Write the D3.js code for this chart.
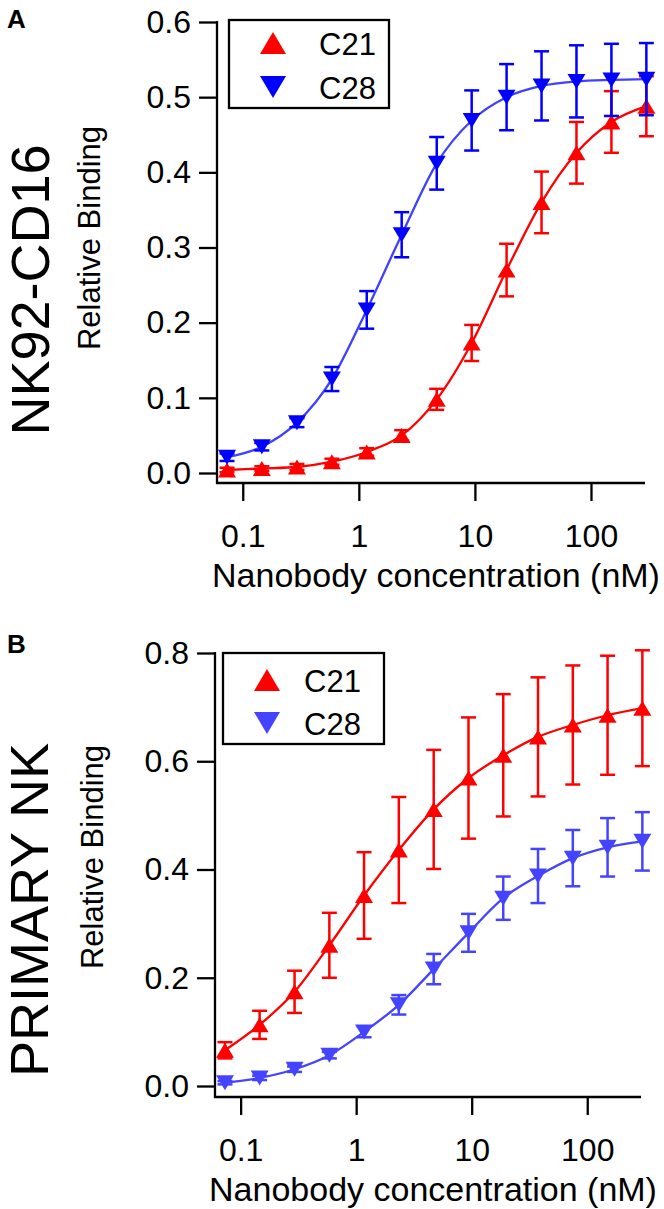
<!DOCTYPE html>
<html><head><meta charset="utf-8">
<script src="https://cdn.jsdelivr.net/npm/d3@7"></script>
<style>
html,body{margin:0;padding:0;background:#fff;}
svg{display:block;}
text{font-family:"Liberation Sans",Arial,Helvetica,sans-serif;fill:#000;}
</style></head>
<body>
<script>
// ---------- DATA ----------
const concentrations = [0.0732, 0.146, 0.293, 0.586, 1.17, 2.34, 4.69, 9.38, 18.75, 37.5, 75, 150, 300];
const xTickValues = [0.1, 1, 10, 100];
const xTickLabels = ["0.1", "1", "10", "100"];
const seriesNames = ["C21", "C28"];

// Panel A: NK92-CD16
const panelA_yTicks = [0, 0.1, 0.2, 0.3, 0.4, 0.5, 0.6];
const panelA_C21 = [0.004, 0.006, 0.008, 0.015, 0.028, 0.050, 0.098, 0.173, 0.270, 0.360, 0.426, 0.467, 0.488];
const panelA_C21_err = [0.003, 0.003, 0.004, 0.004, 0.005, 0.007, 0.014, 0.024, 0.035, 0.041, 0.041, 0.041, 0.040];
const panelA_C28 = [0.021, 0.035, 0.067, 0.125, 0.217, 0.317, 0.412, 0.469, 0.500, 0.515, 0.521, 0.523, 0.524];
const panelA_C28_err = [0.005, 0.005, 0.006, 0.016, 0.025, 0.030, 0.035, 0.040, 0.044, 0.046, 0.048, 0.048, 0.048];

// Panel B: PRIMARY NK
const panelB_yTicks = [0, 0.2, 0.4, 0.6, 0.8];
const panelB_C21 = [0.066, 0.113, 0.174, 0.260, 0.352, 0.436, 0.511, 0.569, 0.611, 0.645, 0.667, 0.685, 0.698];
const panelB_C21_err = [0.015, 0.026, 0.039, 0.060, 0.080, 0.098, 0.110, 0.112, 0.113, 0.110, 0.110, 0.110, 0.107];
const panelB_C28 = [0.006, 0.015, 0.031, 0.057, 0.100, 0.150, 0.216, 0.283, 0.347, 0.388, 0.421, 0.441, 0.452];
const panelB_C28_err = [0.003, 0.004, 0.005, 0.006, 0.010, 0.018, 0.028, 0.035, 0.040, 0.050, 0.052, 0.054, 0.054];

// ---------- DRAW ----------
const W = 664, H = 1209;
const svg = d3.select("body").append("svg").attr("width", W).attr("height", H);

function tri(w, h, up) {
  return up ? `M0,${-h/2}L${w/2},${h/2}L${-w/2},${h/2}Z` : `M0,${h/2}L${w/2},${-h/2}L${-w/2},${-h/2}Z`;
}

function drawPanel(cfg) {
  const g = svg.append("g");
  const x = d3.scaleLog().domain([0.06, 292]).range([cfg.left, cfg.right]);
  const y = d3.scaleLinear().domain([0, cfg.yMax]).range([cfg.y0, cfg.yTop]);

  // axes lines
  g.append("line").attr("x1", cfg.left).attr("x2", cfg.left).attr("y1", y(cfg.yMax) - 1).attr("y2", cfg.axisY + 1)
    .attr("stroke", "#000").attr("stroke-width", 2.3);
  g.append("line").attr("x1", cfg.left - 1).attr("x2", cfg.right).attr("y1", cfg.axisY).attr("y2", cfg.axisY)
    .attr("stroke", "#000").attr("stroke-width", 2.3);

  // y axis ticks
  const ya = d3.axisLeft(y).tickValues(cfg.yTicks).tickFormat(d3.format(".1f")).tickSize(18).tickPadding(8).tickSizeOuter(0);
  const yg = g.append("g").attr("transform", `translate(${cfg.left},0)`).call(ya);
  yg.select(".domain").remove();
  yg.selectAll(".tick line").attr("stroke", "#000").attr("stroke-width", 2.3);
  yg.selectAll(".tick text").attr("font-size", 32).attr("font-family", "Liberation Sans, Arial, sans-serif").attr("fill", "#000");

  // x axis ticks
  const xa = d3.axisBottom(x).tickValues(xTickValues).tickFormat((d, i) => xTickLabels[i]).tickSize(18).tickPadding(23).tickSizeOuter(0);
  const xg = g.append("g").attr("transform", `translate(0,${cfg.axisY})`).call(xa);
  xg.select(".domain").remove();
  xg.selectAll(".tick line").attr("stroke", "#000").attr("stroke-width", 2.3);
  xg.selectAll(".tick text").attr("font-size", 32).attr("font-family", "Liberation Sans, Arial, sans-serif").attr("fill", "#000");

  // x label
  g.append("text").attr("x", (cfg.left + cfg.right) / 2 + 5).attr("y", cfg.axisY + 104)
    .attr("text-anchor", "middle").attr("font-size", 34).text("Nanobody concentration (nM)");
  // y label
  g.append("text").attr("transform", `translate(${cfg.yLabelX},${cfg.yLabelY}) rotate(-90)`)
    .attr("text-anchor", "middle").attr("font-size", 31).text("Relative Binding");
  // big row label
  g.append("text").attr("transform", `translate(${cfg.bigX},${cfg.bigY}) rotate(-90)`)
    .attr("text-anchor", "middle").attr("font-size", 54).text(cfg.bigLabel);
  // panel letter
  g.append("text").attr("x", 7).attr("y", cfg.letterY).attr("font-size", 26).attr("font-weight", "bold").text(cfg.letter);

  // series
  cfg.series.forEach(s => {
    const pts = concentrations.map((c, i) => ({c, v: s.values[i], e: s.err[i]}));
    // fit curve
    const line = d3.line().x(d => x(d.c)).y(d => y(d.v)).curve(d3.curveMonotoneX);
    g.append("path").datum(pts).attr("d", line).attr("fill", "none")
      .attr("stroke", s.lineColor).attr("stroke-width", 2.3);
    // error bars
    const eb = g.append("g").attr("stroke", s.color).attr("stroke-width", 2.5).attr("fill", "none");
    pts.forEach(d => {
      const cx = x(d.c), y1 = y(d.v + d.e), y2 = y(d.v - d.e);
      eb.append("line").attr("x1", cx).attr("x2", cx).attr("y1", y1).attr("y2", y2);
      eb.append("line").attr("x1", cx - 7.5).attr("x2", cx + 7.5).attr("y1", y1).attr("y2", y1);
      eb.append("line").attr("x1", cx - 7.5).attr("x2", cx + 7.5).attr("y1", y2).attr("y2", y2);
    });
    // markers
    g.append("g").selectAll("path").data(pts).join("path")
      .attr("transform", d => `translate(${x(d.c)},${y(d.v)})`)
      .attr("d", tri(18, 15, s.up)).attr("fill", s.color);
  });

  // legend
  const L = cfg.legend;
  g.append("rect").attr("x", L.x).attr("y", L.y).attr("width", L.w).attr("height", L.h)
    .attr("fill", "#fff").attr("stroke", "#000").attr("stroke-width", 2.3);
  cfg.series.forEach((s, i) => {
    const my = L.y + L.rowY[i];
    g.append("path").attr("transform", `translate(${L.x + L.mx},${my})`).attr("d", tri(26, 22, s.up)).attr("fill", s.color);
    g.append("text").attr("x", L.x + L.tx).attr("y", my + 11.5).attr("font-size", 31).text(s.name);
  });
}

drawPanel({
  letter: "A", letterY: 28, bigLabel: "NK92-CD16", bigX: 49, bigY: 290,
  yLabelX: 100, yLabelY: 238,
  left: 217, right: 645, y0: 473, yTop: 22, axisY: 483, yMax: 0.6, yTicks: panelA_yTicks,
  legend: {x: 229, y: 20, w: 160, h: 88, mx: 44, tx: 90, rowY: [23, 67]},
  series: [
    {name: seriesNames[0], values: panelA_C21, err: panelA_C21_err, color: "#ff0000", lineColor: "#ff0000", up: true},
    {name: seriesNames[1], values: panelA_C28, err: panelA_C28_err, color: "#0000ff", lineColor: "#4040ff", up: false}
  ]
});

drawPanel({
  letter: "B", letterY: 653, bigLabel: "PRIMARY NK", bigX: 48, bigY: 910,
  yLabelX: 103, yLabelY: 857,
  left: 215, right: 641, y0: 1086, yTop: 653, axisY: 1097, yMax: 0.8, yTicks: panelB_yTicks,
  legend: {x: 223, y: 653, w: 161, h: 91, mx: 44, tx: 81, rowY: [27, 70]},
  series: [
    {name: seriesNames[0], values: panelB_C21, err: panelB_C21_err, color: "#ff0000", lineColor: "#ff0000", up: true},
    {name: seriesNames[1], values: panelB_C28, err: panelB_C28_err, color: "#4444ff", lineColor: "#4444ff", up: false}
  ]
});
</script>
</body></html>
